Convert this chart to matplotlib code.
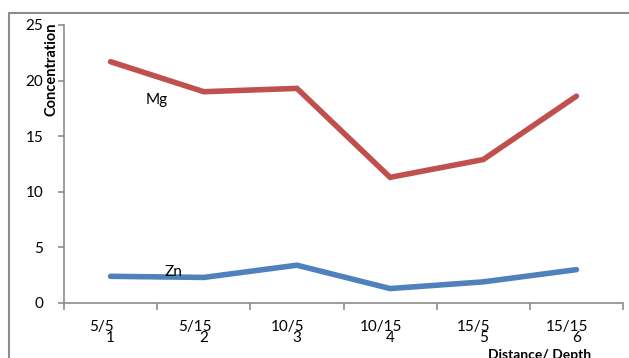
import matplotlib.pyplot as plt
from matplotlib.patches import Rectangle

# sampling points
samples = [1, 2, 3, 4, 5, 6]
positions = ['5/5', '5/15', '10/5', '10/15', '15/5', '15/15']
mg = [21.7, 19.0, 19.3, 11.3, 12.9, 18.6]
zn = [2.4, 2.3, 3.4, 1.3, 1.9, 3.0]

plt.rcParams['font.family'] = ['Lato', 'DejaVu Sans']

fig = plt.figure(figsize=(6.29, 3.58), dpi=100)
# outer chart frame
fig.patches.append(Rectangle((9/629, -0.1), 1.1, 1 - 13/358 + 0.1, transform=fig.transFigure,
                             fill=False, edgecolor='#8c8c8c', linewidth=1.5, clip_on=False))
ax = fig.add_axes([64/629, 1 - 303/358, 559/629, 278/358])

ax.plot(samples, mg, color='#C0504D', lw=4, solid_capstyle='round', solid_joinstyle='miter')
ax.plot(samples, zn, color='#4F81BD', lw=4, solid_capstyle='round', solid_joinstyle='miter')

ax.set_xlim(0.5, 6.5)
ax.set_ylim(0, 25)
ax.set_yticks([0, 5, 10, 15, 20, 25])

grey = '#8c8c8c'
for s in ['top', 'right']:
    ax.spines[s].set_visible(False)
for s in ['left', 'bottom']:
    ax.spines[s].set_color(grey)
    ax.spines[s].set_linewidth(1.2)

# tick marks at category boundaries, labels at category centres
ax.set_xticks([0.5 + i for i in range(7)], minor=True)
ax.set_xticks(samples)
ax.set_xticklabels([str(s) for s in samples], fontsize=11)
ax.tick_params(axis='x', which='minor', length=5, color=grey, width=1.2)
ax.tick_params(axis='x', which='major', length=0, pad=20)
ax.tick_params(axis='y', length=4, color=grey, width=1.2, labelsize=11, pad=11)

for x, lab in zip(samples, positions):
    ax.text(x - 0.1, -0.085, lab, transform=ax.get_xaxis_transform(),
            ha='center', va='center', fontsize=11)

ax.text(1.5, 18.3, 'Mg', fontsize=11, ha='center', va='center')
ax.text(1.67, 2.8, 'Zn', fontsize=11, ha='center', va='center')

fig.text(51/629, 1 - 69/358, 'Concentration', rotation=90, fontsize=10.5,
         fontweight='bold', ha='center', va='center')
fig.text(540/629, 1 - 355/358, 'Distance/ Depth', fontsize=10,
         fontweight='bold', ha='center', va='center')

fig.savefig('out.png', dpi=100)
